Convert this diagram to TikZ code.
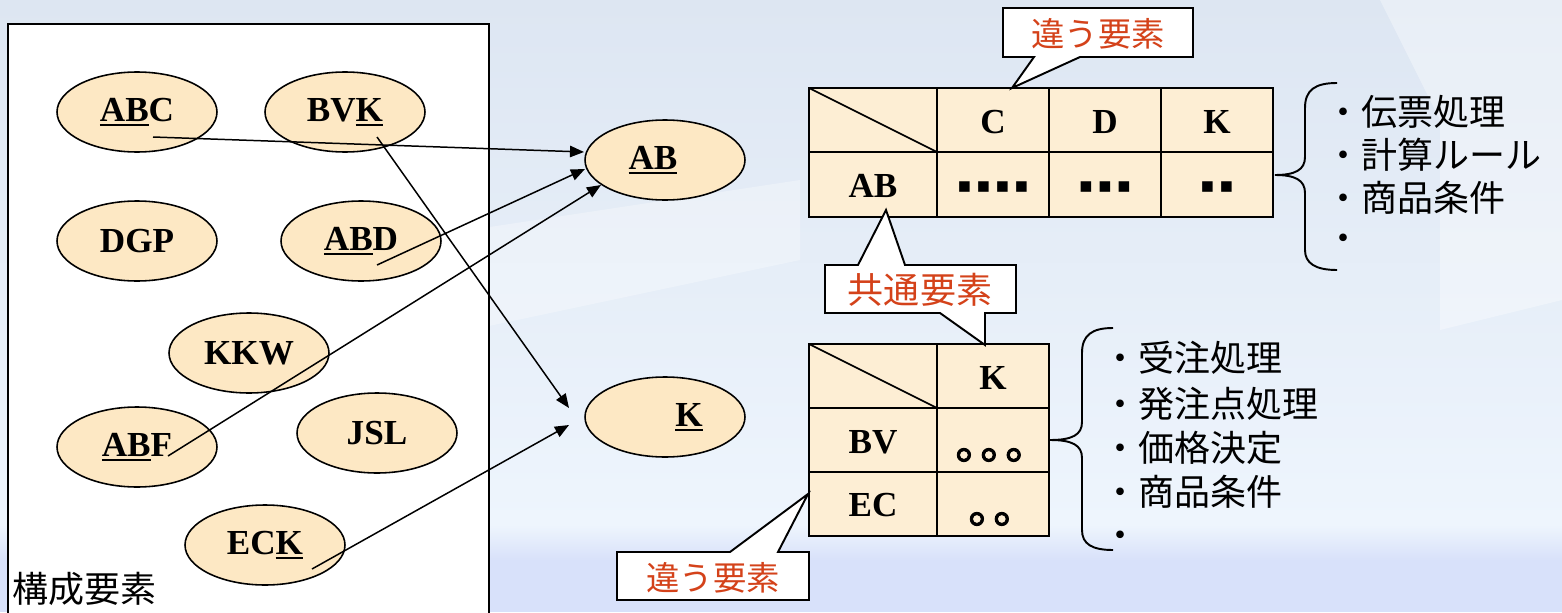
\documentclass[tikz,border=0pt]{standalone}
\usepackage{fontspec}
\setmainfont{Liberation Serif}
\newfontfamily\jp{Noto Sans CJK JP}
\newfontfamily\jpfb[FakeBold=2]{Noto Sans CJK JP}
\newfontfamily\djv{DejaVu Sans}
\usetikzlibrary{arrows.meta,shapes.geometric}
\definecolor{bgA}{RGB}{221,230,242}
\definecolor{bgB}{RGB}{238,245,253}
\definecolor{bgC}{RGB}{216,225,250}
\definecolor{ellfill}{RGB}{253,232,196}
\definecolor{cellfill}{RGB}{253,238,212}
\definecolor{callred}{RGB}{212,66,26}
\newcommand\ulx[1]{\leavevmode\vtop{\hbox{#1}\kern1.6pt\hrule height 1.1pt}}
\newcommand\sqd{\makebox[10.77pt][c]{\djv\fontsize{12}{12}\selectfont ▪}}
\newcommand\crc{\makebox[14.17pt][l]{\jpfb\fontsize{25}{25}\selectfont 。}}
\begin{document}
\begin{tikzpicture}[x=0.02cm,y=-0.02cm,
  ell/.style={ellipse,draw,line width=0.9pt,fill=ellfill,minimum width=3.2cm,minimum height=1.6cm,inner sep=0pt,font=\fontsize{20}{24}\selectfont\bfseries},
  lbl/.style={inner sep=0pt,font=\fontsize{20}{24}\selectfont\bfseries},
  conn/.style={line width=0.85pt,-{Triangle[length=8pt,width=6.5pt]}},
  grid/.style={line width=1.1pt},
  callout/.style={draw,fill=white,line width=1.1pt,line join=miter},
  redt/.style={inner sep=0pt,text=callred,font=\jp\fontsize{19}{22}\selectfont},
  jpl/.style={anchor=west,inner sep=0pt,font=\jp\fontsize{20.5}{24}\selectfont},
  brace/.style={line width=1.1pt}]
\useasboundingbox (0,0) rectangle (1562,612);
% background
\shade[top color=bgA,bottom color=bgB] (0,0) rectangle (1562,525);
\shade[top color=bgB,bottom color=bgC] (0,525) rectangle (1562,560);
\fill[bgC] (0,560) rectangle (1562,612);
\fill[white,opacity=0.35] (1380,0) -- (1562,0) -- (1562,300) -- (1440,330) -- (1440,120) -- cycle;
\fill[white,opacity=0.3] (470,230) -- (800,180) -- (800,260) -- (470,330) -- cycle;
% left box
\fill[white] (8,24) rectangle (489,612);
\draw[line width=1.1pt] (8,614) -- (8,24) -- (489,24) -- (489,614);
\node[jpl] (kosei) at (12,589) {構成要素};
% ellipses
\node[ell] (abc) at (137,112) {\ulx{AB}C};
\node[ell] (bvk) at (345,112) {BV\ulx{K}};
\node[ell] (dgp) at (137,241) {DGP};
\node[ell] (abd) at (361,241) {\ulx{AB}D};
\node[ell] (kkw) at (249,353) {KKW};
\node[ell] (abf) at (137,447) {\ulx{AB}F};
\node[ell] (jsl) at (377,433) {JSL};
\node[ell] (eck) at (265,545) {EC\ulx{K}};
\node[ell] (ab) at (665,160) {};
\node[lbl] (abt) at (653,160) {\ulx{AB}};
\node[ell] (k) at (665,417) {};
\node[lbl] (kt) at (689,417) {\ulx{K}};
% connector end points
\coordinate (abcS) at (153,137);
\coordinate (bvkS) at (377,137);
\coordinate (abdS) at (377,265);
\coordinate (abfS) at (168,456);
\coordinate (eckS) at (312,569);
\coordinate (abT1) at (584,152);
\coordinate (abT2) at (585,169);
\coordinate (abT3) at (601,185);
\coordinate (kT1) at (569,408);
\coordinate (kT2) at (569,425);
\draw[conn] (abcS) -- (abT1);
\draw[conn] (abdS) -- (abT2);
\draw[conn] (abfS) -- (abT3);
\draw[conn] (bvkS) -- (kT1);
\draw[conn] (eckS) -- (kT2);
% table 1
\fill[cellfill] (809,88) rectangle (1273,217);
\draw[grid] (809,88) rectangle (1273,217);
\draw[grid] (809,152) -- (1273,152);
\draw[grid] (937,88) -- (937,217);
\draw[grid] (1049,88) -- (1049,217);
\draw[grid] (1161,88) -- (1161,217);
\draw[line width=0.9pt] (809,88) -- (937,152);
\node[lbl] (t1c) at (993,122) {C};
\node[lbl] (t1d) at (1105,122) {D};
\node[lbl] (t1k) at (1217,122) {K};
\node[lbl] (t1ab) at (873,186) {AB};
\node[inner sep=0pt] (t1x1) at (993,187) {\sqd\sqd\sqd\sqd};
\node[inner sep=0pt] (t1x2) at (1105,187) {\sqd\sqd\sqd};
\node[inner sep=0pt] (t1x3) at (1217,187) {\sqd\sqd};
% table 2
\fill[cellfill] (809,344) rectangle (1049,536);
\draw[grid] (809,344) rectangle (1049,536);
\draw[grid] (809,408) -- (1049,408);
\draw[grid] (809,472) -- (1049,472);
\draw[grid] (937,344) -- (937,536);
\draw[line width=0.9pt] (809,344) -- (937,408);
\node[lbl] (t2k) at (993,378) {K};
\node[lbl] (t2bv) at (873,442) {BV};
\node[lbl] (t2ec) at (873,505) {EC};
\node[inner sep=0pt,anchor=base west] (t2o1) at (955,459) {\crc\crc\crc};
\node[inner sep=0pt,anchor=base west] (t2o2) at (968,523) {\crc\crc};
% callouts
\draw[callout] (1003,8) -- (1193,8) -- (1193,57) -- (1080,57) -- (1012,88) -- (1034,57) -- (1003,57) -- cycle;
\node[redt] (c1) at (1098,34) {違う要素};
\draw[callout] (825,265) -- (858,265) -- (886,210) -- (905,265) -- (1016,265) -- (1016,313) -- (985,313) -- (985,345) -- (940,313) -- (825,313) -- cycle;
\node[redt,font=\jp\fontsize{20.5}{24}\selectfont] (c2) at (920,290) {共通要素};
\draw[callout] (617,552) -- (730,552) -- (808,494) -- (778,552) -- (809,552) -- (809,600) -- (617,600) -- cycle;
\node[redt] (c3) at (713,578) {違う要素};
% braces
\draw[brace] (1337,83) .. controls (1315,83) and (1305,90) .. (1305,108) -- (1305,157) .. controls (1305,170) and (1295,175) .. (1275,175) .. controls (1295,175) and (1305,180) .. (1305,193) -- (1305,250) .. controls (1305,263) and (1315,270) .. (1337,270);
\draw[brace] (1113,328) .. controls (1092,328) and (1082,335) .. (1082,353) -- (1082,422) .. controls (1082,435) and (1072,440) .. (1050,440) .. controls (1072,440) and (1082,445) .. (1082,458) -- (1082,530) .. controls (1082,544) and (1092,550) .. (1113,550);
% lists
\node[jpl] (l1a) at (1325,112) {・伝票処理};
\node[jpl] (l1b) at (1325,155) {・計算ルール};
\node[jpl] (l1c) at (1325,198) {・商品条件};
\node[jpl] (l1d) at (1325,243) {・};
\node[jpl] (l2a) at (1102,358) {・受注処理};
\node[jpl] (l2b) at (1102,404) {・発注点処理};
\node[jpl] (l2c) at (1102,448) {・価格決定};
\node[jpl] (l2d) at (1102,492) {・商品条件};
\node[jpl] (l2e) at (1102,540) {・};
\end{tikzpicture}
\end{document}
